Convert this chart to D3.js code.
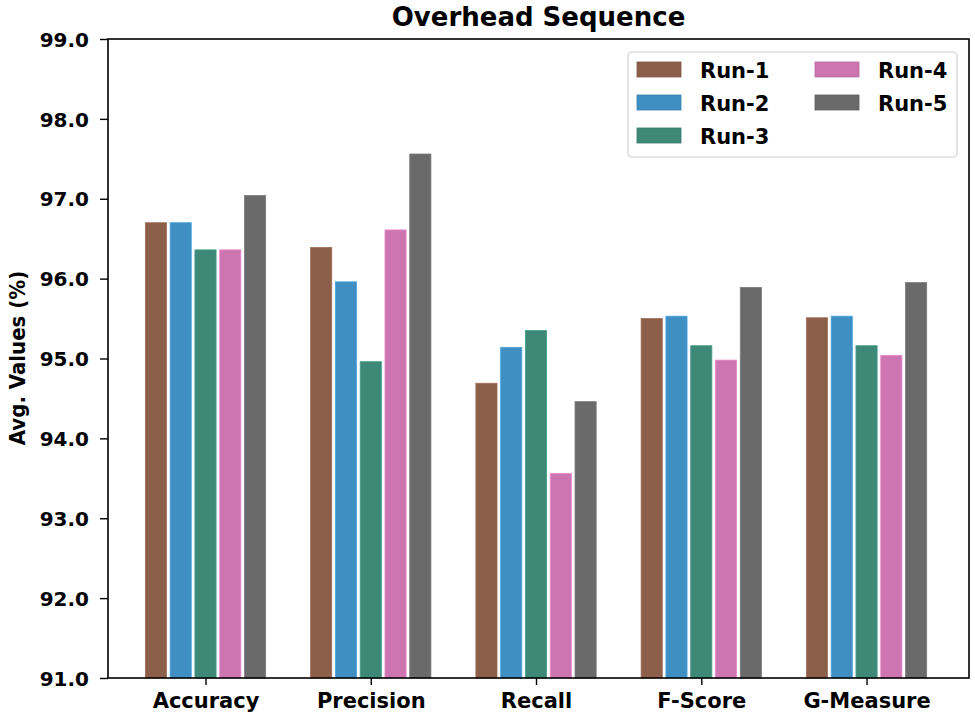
<!DOCTYPE html>
<html>
<head>
<meta charset="utf-8">
<script src="https://cdn.jsdelivr.net/npm/d3@7"></script>
<style>
  body { margin: 0; background: #fff; }
  text { font-family: "DejaVu Sans", sans-serif; font-weight: bold; fill: #000; }
</style>
</head>
<body>
<div class="viz"></div>
<script>
var categories = [ "Accuracy", "Precision", "Recall", "F-Score", "G-Measure" ],
    runs = [ "Run-1", "Run-2", "Run-3", "Run-4", "Run-5" ],
    colors = [ "#8c5f4b", "#408fc3", "#3d8877", "#cd75b0", "#6a6a6a" ],
    run1 = [ 96.70, 96.39, 94.69, 95.50, 95.51 ],
    run2 = [ 96.70, 95.96, 95.14, 95.53, 95.53 ],
    run3 = [ 96.36, 94.96, 95.35, 95.16, 95.16 ],
    run4 = [ 96.36, 96.61, 93.56, 94.98, 95.04 ],
    run5 = [ 97.04, 97.56, 94.46, 95.89, 95.95 ],
    yTicks = [ 91, 92, 93, 94, 95, 96, 97, 98, 99 ];

var series = [ run1, run2, run3, run4, run5 ];

var width = 975, height = 720,
    plotLeft = 108, plotRight = 969, plotTop = 39, plotBottom = 678,
    barStep = 0.15, barWidth = 0.128;

var svg = d3.select( ".viz" )
    .append( "svg" )
    .attr( "width", width )
    .attr( "height", height );

var x = d3.scaleLinear().domain( [ -0.59, 4.62 ] ).range( [ plotLeft, plotRight ] );
var y = d3.scaleLinear().domain( [ 91, 99 ] ).range( [ plotBottom, plotTop ] );

// bars
series.forEach( function( vals, k ) {
    svg.selectAll( ".bar" + k )
        .data( vals )
        .enter()
        .append( "rect" )
        .attr( "x", function( d, i ) {
            return x( i + ( k - 2 ) * barStep - barWidth / 2 );
        } )
        .attr( "y", function( d ) { return y( d ); } )
        .attr( "width", x( barWidth ) - x( 0 ) )
        .attr( "height", function( d ) { return y( 91 ) - y( d ); } )
        .style( "fill", colors[ k ] )
        .style( "stroke", d3.color( colors[ k ] ).brighter( 0.4 ) )
        .style( "stroke-width", 0.8 );
} );

// frame
svg.append( "rect" )
    .attr( "x", plotLeft )
    .attr( "y", plotTop )
    .attr( "width", plotRight - plotLeft )
    .attr( "height", plotBottom - plotTop )
    .style( "fill", "none" )
    .style( "stroke", "#000" )
    .style( "stroke-width", 1.6 );

// y axis
var yAxis = svg.append( "g" )
    .attr( "transform", "translate(" + plotLeft + ",0)" )
    .call( d3.axisLeft( y ).tickValues( yTicks ).tickFormat( d3.format( ".1f" ) ).tickSize( 8 ).tickPadding( 11 ) );
yAxis.select( ".domain" ).remove();
yAxis.selectAll( "line" ).style( "stroke-width", 1.4 );
yAxis.selectAll( "text" ).style( "font-size", "20px" ).style( "font-family", "DejaVu Sans" ).attr( "dy", "0.36em" );

// x axis
var xAxis = svg.append( "g" )
    .attr( "transform", "translate(0," + plotBottom + ")" )
    .call( d3.axisBottom( x ).tickValues( d3.range( categories.length ) )
        .tickFormat( function( d ) { return categories[ d ]; } ).tickSize( 7 ).tickPadding( 8 ) );
xAxis.select( ".domain" ).remove();
xAxis.selectAll( "line" ).style( "stroke-width", 1.4 );
xAxis.selectAll( "text" ).style( "font-size", "21px" ).style( "font-family", "DejaVu Sans" );

// title + y label
svg.append( "text" )
    .attr( "x", ( plotLeft + plotRight ) / 2 )
    .attr( "y", 26 )
    .style( "text-anchor", "middle" )
    .style( "font-size", "26px" )
    .text( "Overhead Sequence" );

svg.append( "text" )
    .attr( "transform", "translate(25,358) rotate(-90)" )
    .style( "text-anchor", "middle" )
    .style( "font-size", "22px" )
    .style( "font-family", "DejaVu Sans Condensed, DejaVu Sans, sans-serif" )
    .text( "Avg. Values (%)" );

// legend
var legend = svg.append( "g" ).attr( "transform", "translate(628,52)" );
legend.append( "rect" )
    .attr( "width", 329 )
    .attr( "height", 105 )
    .attr( "rx", 4 )
    .style( "fill", "#fff" )
    .style( "stroke", "#d0d0d0" )
    .style( "stroke-width", 1.2 );

var items = legend.selectAll( ".legend" )
    .data( runs )
    .enter()
    .append( "g" )
    .attr( "class", "legend" )
    .attr( "transform", function( d, i ) {
        return "translate(" + ( i < 3 ? 9 : 187 ) + "," + ( 10 + ( i % 3 ) * 33 ) + ")";
    } );
items.append( "rect" )
    .attr( "width", 44 )
    .attr( "height", 15 )
    .style( "fill", function( d, i ) { return colors[ i ]; } )
    .style( "stroke", function( d, i ) { return d3.color( colors[ i ] ).darker( 0.3 ); } )
    .style( "stroke-width", 0.8 );
items.append( "text" )
    .attr( "x", 63 )
    .attr( "y", 15.5 )
    .style( "font-size", "21px" )
    .text( function( d ) { return d; } );
</script>
</body>
</html>
